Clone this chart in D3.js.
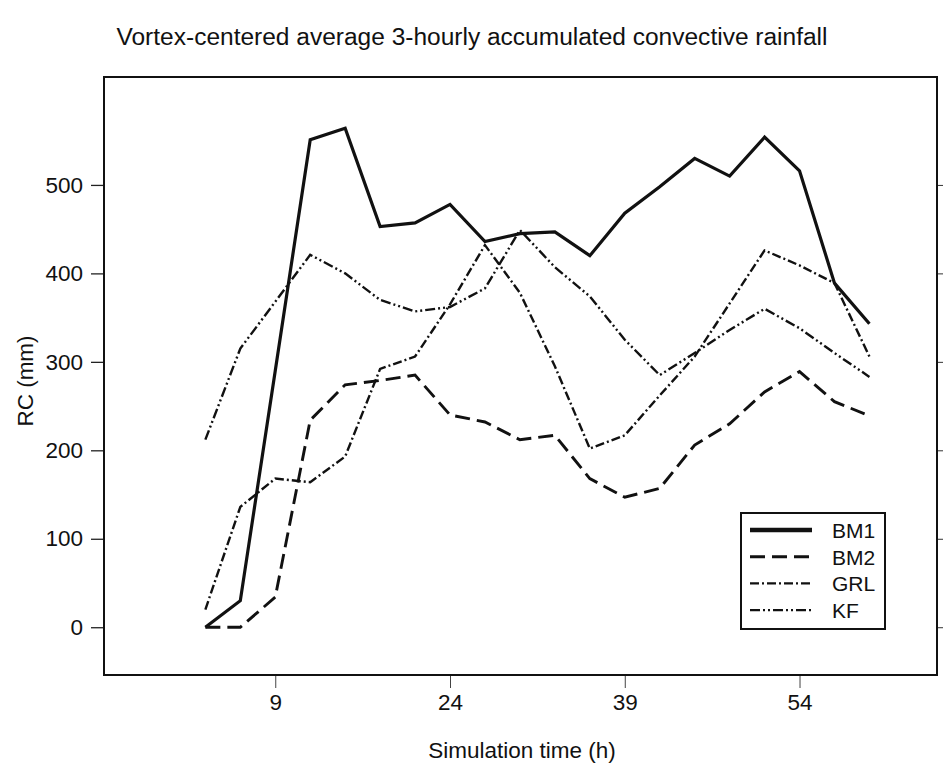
<!DOCTYPE html>
<meta charset="utf-8">
<script src="https://d3js.org/d3.v7.min.js"></script>
<style>
  body { margin: 0; background: #fff; }
  text { font-family: "Liberation Sans", Arial, sans-serif; fill: #111; }
</style>
<svg id="chart" width="943" height="767"></svg>
<script>
  // simulation time, every 3 hours
  var hours = [3, 6, 9, 12, 15, 18, 21, 24, 27, 30, 33, 36, 39, 42, 45, 48, 51, 54, 57, 60];
  var bm1 = [0, 30, 290, 551, 564, 453, 457, 478, 436, 445, 447, 420, 468, 498, 530, 510, 554, 516, 389, 343];
  var bm2 = [0, 0, 34, 234, 274, 279, 285, 240, 232, 212, 217, 168, 147, 157, 206, 230, 266, 289, 255, 239];
  var grl = [20, 136, 168, 164, 193, 292, 306, 365, 432, 378, 295, 202, 217, 262, 306, 366, 426, 409, 389, 306];
  var kf = [212, 315, 368, 421, 400, 370, 357, 362, 383, 449, 407, 374, 325, 285, 310, 336, 360, 338, 310, 283];
  var xTicks = [9, 24, 39, 54];
  var yTicks = [0, 100, 200, 300, 400, 500];

  var series = [
    { name: "BM1", values: bm1, width: 3.2, dash: null, legendWidth: 4.5 },
    { name: "BM2", values: bm2, width: 2.9, dash: "15,7", legendWidth: 3 },
    { name: "GRL", values: grl, width: 2.4, dash: "9,3,2,3", legendWidth: 2.4 },
    { name: "KF", values: kf, width: 2.4, dash: "10,3,2,3,2,3", legendWidth: 2.4 }
  ];

  var svg = d3.select("#chart");
  var pLeft = 104, pRight = 937, pTop = 77, pBottom = 675;

  var x = d3.scaleLinear().domain([-5.7, 65.8]).range([pLeft, pRight]);
  var y = d3.scaleLinear().domain([-54, 622]).range([pBottom, pTop]);

  // title
  svg.append("text")
    .attr("x", 472).attr("y", 45)
    .attr("text-anchor", "middle")
    .style("font-size", "23px")
    .attr("textLength", 711).attr("lengthAdjust", "spacingAndGlyphs")
    .text("Vortex-centered average 3-hourly accumulated convective rainfall");

  // axes
  var g = svg.append("g");
  g.append("g")
    .attr("transform", "translate(0," + pBottom + ")")
    .call(d3.axisBottom(x).tickValues(xTicks).tickSize(13).tickPadding(6))
    .call(function(a) {
      a.select(".domain").remove();
      a.selectAll("line").attr("stroke", "#444");
      a.selectAll("text").style("font-size", "22.5px").attr("fill", "#111");
    });

  g.append("g")
    .attr("transform", "translate(" + pLeft + ",0)")
    .call(d3.axisLeft(y).tickValues(yTicks).tickSize(13).tickPadding(8))
    .call(function(a) {
      a.select(".domain").remove();
      a.selectAll("line").attr("stroke", "#222").attr("stroke-width", 1.3);
      a.selectAll("text").style("font-size", "22.5px").attr("fill", "#111");
    });

  g.append("g")
    .attr("transform", "translate(" + pRight + ",0)")
    .call(d3.axisRight(y).tickValues(yTicks).tickSize(7).tickFormat(""))
    .call(function(a) {
      a.select(".domain").remove();
      a.selectAll("line").attr("stroke", "#333");
    });

  // frame
  svg.append("rect")
    .attr("x", pLeft).attr("y", pTop)
    .attr("width", pRight - pLeft).attr("height", pBottom - pTop)
    .attr("fill", "none").attr("stroke", "#111").attr("stroke-width", 2);

  // axis titles
  svg.append("text")
    .attr("x", 522).attr("y", 758)
    .attr("text-anchor", "middle")
    .style("font-size", "22.5px")
    .text("Simulation time (h)");

  svg.append("text")
    .attr("transform", "translate(33,381) rotate(-90)")
    .attr("text-anchor", "middle")
    .style("font-size", "22.5px")
    .text("RC (mm)");

  // lines
  var line = d3.line()
    .x(function(d, i) { return x(hours[i]); })
    .y(function(d) { return y(d); });

  svg.append("g")
    .selectAll("path")
    .data(series)
    .enter()
    .append("path")
      .attr("d", function(s) { return line(s.values); })
      .attr("fill", "none")
      .attr("stroke", "#111")
      .attr("stroke-width", function(s) { return s.width; })
      .attr("stroke-dasharray", function(s) { return s.dash; })
      .attr("stroke-linejoin", "miter");

  // legend
  var legend = svg.append("g").attr("transform", "translate(741,513)");
  legend.append("rect")
    .attr("width", 144).attr("height", 116)
    .attr("fill", "#fff").attr("stroke", "#111").attr("stroke-width", 2);

  var row = legend.selectAll(".row")
    .data(series)
    .enter()
    .append("g")
      .attr("class", "row")
      .attr("transform", function(s, i) { return "translate(0," + (17 + i * 26.7) + ")"; });

  row.append("line")
    .attr("x1", 9).attr("x2", 71)
    .attr("stroke", "#111")
    .attr("stroke-width", function(s) { return s.legendWidth; })
    .attr("stroke-dasharray", function(s) { return s.dash; });

  row.append("text")
    .attr("x", 91).attr("y", 8)
    .style("font-size", "21px")
    .text(function(s) { return s.name; });
</script>
